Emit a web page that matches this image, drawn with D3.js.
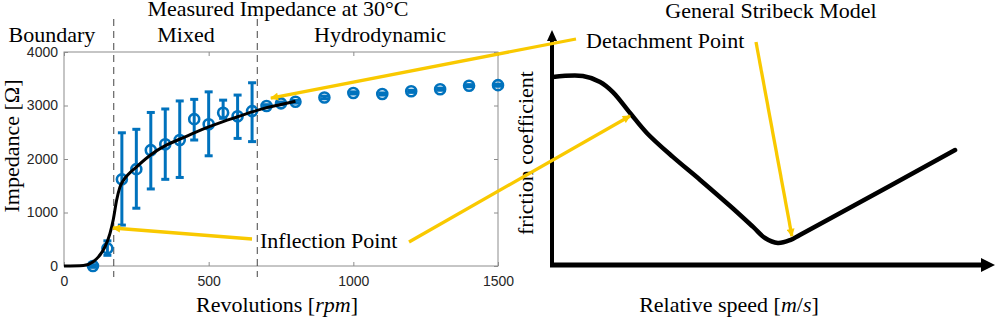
<!DOCTYPE html>
<html>
<head>
<meta charset="utf-8">
<script src="https://cdn.jsdelivr.net/npm/d3@7"></script>
<style>
  body { margin: 0; background: #fff; }
  svg { display: block; }
</style>
</head>
<body>
<div id="chart"></div>
<script>
const width = 996;
const height = 319;

// measured impedance (left plot)
const rpm = [100, 150, 200, 250, 300, 350, 400, 450, 500, 550, 600, 650, 700, 750, 800, 900, 1000, 1100, 1200, 1300, 1400, 1500];
const impedance = [0, 330, 1620, 1810, 2165, 2275, 2355, 2745, 2650, 2865, 2800, 2895, 2990, 3040, 3070, 3150, 3235, 3215, 3265, 3305, 3370, 3380];
const errLow = [-25, 200, 765, 1080, 1440, 1620, 1655, 2355, 2060, 2760, 2385, 2325, 2965, 3015, 3045, 3125, 3215, 3195, 3245, 3285, 3350, 3360];
const errHigh = [25, 470, 2490, 2555, 2870, 2935, 3085, 3115, 3255, 3100, 3195, 3425, 3015, 3065, 3095, 3175, 3255, 3235, 3285, 3325, 3390, 3400];

// fitted curve
const fitRpm = [0, 67, 101, 119, 142, 159, 170, 182, 193, 205, 220, 250, 300, 350, 400, 450, 500, 550, 600, 650, 700, 750, 800];
const fitImp = [0, 10, 80, 170, 360, 610, 860, 1234, 1470, 1600, 1700, 1850, 2080, 2250, 2370, 2490, 2600, 2700, 2790, 2880, 2960, 3020, 3080];

// regime boundaries [rpm]
const boundaries = [172, 668];
const regimes = [
  { name: "Boundary", x: 52 },
  { name: "Mixed", x: 186 },
  { name: "Hydrodynamic", x: 380 }
];

const xTicks = [0, 500, 1000, 1500];
const yTicks = [0, 1000, 2000, 3000, 4000];

// generic Stribeck curve (arbitrary units)
const speed = [0.02, 0.70, 1.09, 1.38, 1.77, 2.15, 2.74, 3.36, 4.04, 4.56, 4.83, 5.12, 5.40, 5.62, 6.37, 9.14];
const friction = [8.0, 8.04, 7.79, 7.36, 6.47, 5.62, 4.60, 3.62, 2.51, 1.62, 1.15, 0.94, 1.06, 1.28, 2.04, 4.89];

const blue = "#0072BD";
const yellow = "#F9C900";
const serif = "'Liberation Serif', 'Times New Roman', serif";
const sans = "'Liberation Sans', Arial, sans-serif";

const svg = d3.select("#chart").append("svg")
  .attr("width", width)
  .attr("height", height);

svg.append("rect").attr("width", width).attr("height", height).attr("fill", "#fff");

const defs = svg.append("defs");
defs.append("marker")
  .attr("id", "yarrow")
  .attr("viewBox", "0 0 10 10")
  .attr("refX", 9).attr("refY", 5)
  .attr("markerUnits", "userSpaceOnUse")
  .attr("markerWidth", 9).attr("markerHeight", 8)
  .attr("orient", "auto")
  .append("path")
  .attr("d", "M0,0 L10,5 L0,10 Z")
  .attr("fill", yellow);

// ---------- left plot ----------
const x = d3.scaleLinear().domain([0, 1500]).range([64, 498]);
const y = d3.scaleLinear().domain([0, 4000]).range([266, 52]);

const left = svg.append("g");

// box
left.append("rect")
  .attr("x", x(0)).attr("y", y(4000))
  .attr("width", x(1500) - x(0)).attr("height", y(0) - y(4000))
  .attr("fill", "none").attr("stroke", "#8c8c8c").attr("stroke-width", 1);

// bottom / left axes with inward ticks
left.append("g")
  .attr("transform", `translate(0,${y(0)})`)
  .call(d3.axisBottom(x).tickValues(xTicks).tickFormat(d3.format("d"))
    .tickSizeInner(-4).tickSizeOuter(0).tickPadding(10));
left.append("g")
  .attr("transform", `translate(${x(0)},0)`)
  .call(d3.axisLeft(y).tickValues(yTicks).tickFormat(d3.format("d"))
    .tickSizeInner(-4).tickSizeOuter(0).tickPadding(6));
// top / right ticks
left.append("g")
  .attr("transform", `translate(0,${y(4000)})`)
  .call(d3.axisTop(x).tickValues(xTicks).tickSizeInner(-4).tickSizeOuter(0).tickFormat(""));
left.append("g")
  .attr("transform", `translate(${x(1500)},0)`)
  .call(d3.axisRight(y).tickValues(yTicks).tickSizeInner(-4).tickSizeOuter(0).tickFormat(""));

left.selectAll(".domain").remove();
left.selectAll(".tick line").attr("stroke", "#8c8c8c");
left.selectAll(".tick text")
  .attr("font-family", sans).attr("font-size", 14).attr("fill", "#262626");

// regime boundaries
left.selectAll(".bound")
  .data(boundaries)
  .join("line")
  .attr("x1", d => x(d)).attr("x2", d => x(d))
  .attr("y1", 19).attr("y2", y(0) + 11)
  .attr("stroke", "#444").attr("stroke-width", 1)
  .attr("stroke-dasharray", "7,5");

left.selectAll(".regime")
  .data(regimes)
  .join("text")
  .attr("x", d => d.x).attr("y", 42)
  .attr("text-anchor", "middle")
  .attr("font-family", serif).attr("font-size", 22)
  .text(d => d.name);

left.append("text")
  .attr("x", 278).attr("y", 16)
  .attr("text-anchor", "middle")
  .attr("font-family", serif).attr("font-size", 22)
  .text("Measured Impedance at 30°C");

// error bars
const pts = rpm.map((r, i) => ({ r, v: impedance[i], lo: errLow[i], hi: errHigh[i] }));
const eb = left.append("g").attr("stroke", blue).attr("stroke-width", 3).attr("fill", "none");
eb.selectAll(".v").data(pts).join("line")
  .attr("x1", d => x(d.r)).attr("x2", d => x(d.r))
  .attr("y1", d => y(d.lo)).attr("y2", d => y(d.hi));
eb.selectAll(".cl").data(pts).join("line")
  .attr("x1", d => x(d.r) - 4).attr("x2", d => x(d.r) + 4)
  .attr("y1", d => y(d.lo)).attr("y2", d => y(d.lo));
eb.selectAll(".ch").data(pts).join("line")
  .attr("x1", d => x(d.r) - 4).attr("x2", d => x(d.r) + 4)
  .attr("y1", d => y(d.hi)).attr("y2", d => y(d.hi));

left.append("g").selectAll("circle").data(pts).join("circle")
  .attr("cx", d => x(d.r)).attr("cy", d => y(d.v))
  .attr("r", 5)
  .attr("fill", "none").attr("stroke", blue).attr("stroke-width", 2.6);

// fit curve
const fit = fitRpm.map((r, i) => [r, fitImp[i]]);
left.append("path")
  .datum(fit)
  .attr("d", d3.line().x(d => x(d[0])).y(d => y(d[1])).curve(d3.curveMonotoneX))
  .attr("fill", "none").attr("stroke", "#000").attr("stroke-width", 3);

// axis labels
left.append("text")
  .attr("transform", `translate(19,146) rotate(-90)`)
  .attr("text-anchor", "middle")
  .attr("font-family", serif).attr("font-size", 22)
  .text("Impedance [Ω]");

const xl = left.append("text")
  .attr("x", 277).attr("y", 312)
  .attr("text-anchor", "middle")
  .attr("font-family", serif).attr("font-size", 22);
xl.append("tspan").text("Revolutions [");
xl.append("tspan").attr("font-style", "italic").text("rpm");
xl.append("tspan").text("]");

// ---------- right plot ----------
const xs = d3.scaleLinear().domain([0, 10]).range([552, 993]);
const ys = d3.scaleLinear().domain([0, 10]).range([265, 30]);

const right = svg.append("g");

right.append("text")
  .attr("x", 771).attr("y", 18)
  .attr("text-anchor", "middle")
  .attr("font-family", serif).attr("font-size", 22)
  .text("General Stribeck Model");

// axes with arrowheads
right.append("line")
  .attr("x1", xs(0)).attr("x2", xs(0))
  .attr("y1", ys(0) + 2).attr("y2", ys(10) + 8)
  .attr("stroke", "#000").attr("stroke-width", 4);
right.append("line")
  .attr("x1", xs(0) - 2).attr("x2", xs(10) - 10)
  .attr("y1", ys(0)).attr("y2", ys(0))
  .attr("stroke", "#000").attr("stroke-width", 5);
right.append("path")
  .attr("d", `M${xs(0)},${ys(10)} L${xs(0) + 5},${ys(10) + 11} L${xs(0) - 5},${ys(10) + 11} Z`)
  .attr("fill", "#000");
right.append("path")
  .attr("d", `M${xs(10) + 2},${ys(0)} L${xs(10) - 12},${ys(0) - 7} L${xs(10) - 12},${ys(0) + 7} Z`)
  .attr("fill", "#000");

const stri = speed.map((s, i) => [s, friction[i]]);
right.append("path")
  .datum(stri)
  .attr("d", d3.line().x(d => xs(d[0])).y(d => ys(d[1])).curve(d3.curveCatmullRom))
  .attr("fill", "none").attr("stroke", "#000").attr("stroke-width", 4.5)
  .attr("stroke-linecap", "round");

right.append("text")
  .attr("transform", `translate(533,153) rotate(-90)`)
  .attr("text-anchor", "middle")
  .attr("font-family", serif).attr("font-size", 22)
  .text("friction coefficient");

const rl = right.append("text")
  .attr("x", 729).attr("y", 312)
  .attr("text-anchor", "middle")
  .attr("font-family", serif).attr("font-size", 22);
rl.append("tspan").text("Relative speed [");
rl.append("tspan").attr("font-style", "italic").text("m");
rl.append("tspan").text("/");
rl.append("tspan").attr("font-style", "italic").text("s");
rl.append("tspan").text("]");

// ---------- annotations ----------
svg.append("text")
  .attr("x", 260).attr("y", 248)
  .attr("font-family", serif).attr("font-size", 22)
  .text("Inflection Point");
svg.append("text")
  .attr("x", 586).attr("y", 48)
  .attr("font-family", serif).attr("font-size", 22)
  .text("Detachment Point");

const arrows = [
  { from: [252, 239], to: [x(169), y(710)] },
  { from: [409, 242], to: [xs(1.77), ys(6.34)] },
  { from: [576, 39], to: [x(715), y(3140)] },
  { from: [756, 42], to: [xs(5.44), ys(1.23)] }
];
svg.append("g").selectAll("line").data(arrows).join("line")
  .attr("x1", d => d.from[0]).attr("y1", d => d.from[1])
  .attr("x2", d => d.to[0]).attr("y2", d => d.to[1])
  .attr("stroke", yellow).attr("stroke-width", 3.3)
  .attr("marker-end", "url(#yarrow)");
</script>
</body>
</html>
